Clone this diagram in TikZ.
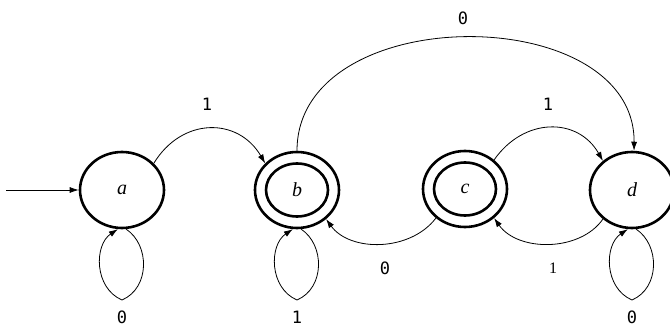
\documentclass[tikz,border=0pt]{standalone}
\usepackage{fontspec}
\setmainfont{Liberation Serif}
\newfontfamily\labelfont{DejaVu Sans Mono}
\usetikzlibrary{shapes.geometric,arrows.meta}
\tikzset{
  state/.style={ellipse, draw, line width=2.6pt, minimum width=84pt, minimum height=76pt, inner sep=0pt, font=\fontsize{20}{20}\selectfont\itshape},
  innerstate/.style={ellipse, draw, line width=2.6pt, minimum width=62pt, minimum height=53pt, inner sep=0pt},
  edge/.style={line width=0.8pt, -{Latex[length=9pt,width=6pt]}},
  lab/.style={font=\labelfont\fontsize{17}{17}\selectfont, inner sep=0pt}
}
\begin{document}
\begin{tikzpicture}[x=1pt,y=-1pt]
  \useasboundingbox (0,0) rectangle (670,329);
  % states
  \node[state] (a) at (122,190) {a};
  \node[state] (b) at (297,190) {b};
  \node[innerstate] (bi) at (297,190) {};
  \node[state] (c) at (465,189) {c};
  \node[innerstate] (ci) at (465,189) {};
  \node[state] (d) at (632,190) {d};
  \coordinate (start) at (6,190);
  % start arrow
  \draw[edge] (start) -- (a.west);
  % transitions
  \draw[edge] (a.40) .. controls (182,117) and (238,117) .. (b.140);
  \draw[edge] (b.90) .. controls (297,0) and (635,0) .. (d.87);
  \draw[edge] (c.45) .. controls (524,117) and (578,117) .. (d.135);
  \draw[edge] (c.225) .. controls (410,252) and (350,252) .. (b.-45);
  \draw[edge] (d.225) .. controls (580,252) and (518,252) .. (c.-45);
  % self loops
  \draw[edge] (a.-84) .. controls (150,245) and (150,288) .. (122,300) .. controls (94,288) and (94,245) .. (a.-96);
  \draw[edge] (b.-84) .. controls (325,245) and (325,288) .. (297,300) .. controls (269,288) and (269,245) .. (b.-96);
  \draw[edge] (d.-84) .. controls (660,245) and (660,288) .. (632,300) .. controls (604,288) and (604,245) .. (d.-96);
  % labels
  \node[lab] (l1) at (207,104) {1};
  \node[lab] (l2) at (463,18) {0};
  \node[lab] (l3) at (548,104) {1};
  \node[lab] (l4) at (385,268) {0};
  \node[inner sep=0pt, font=\fontsize{16}{16}\selectfont] (l5) at (553,268) {1};
  \node[lab] (l6) at (122,317) {0};
  \node[lab] (l7) at (297,317) {1};
  \node[lab] (l8) at (632,317) {0};
\end{tikzpicture}
\end{document}
